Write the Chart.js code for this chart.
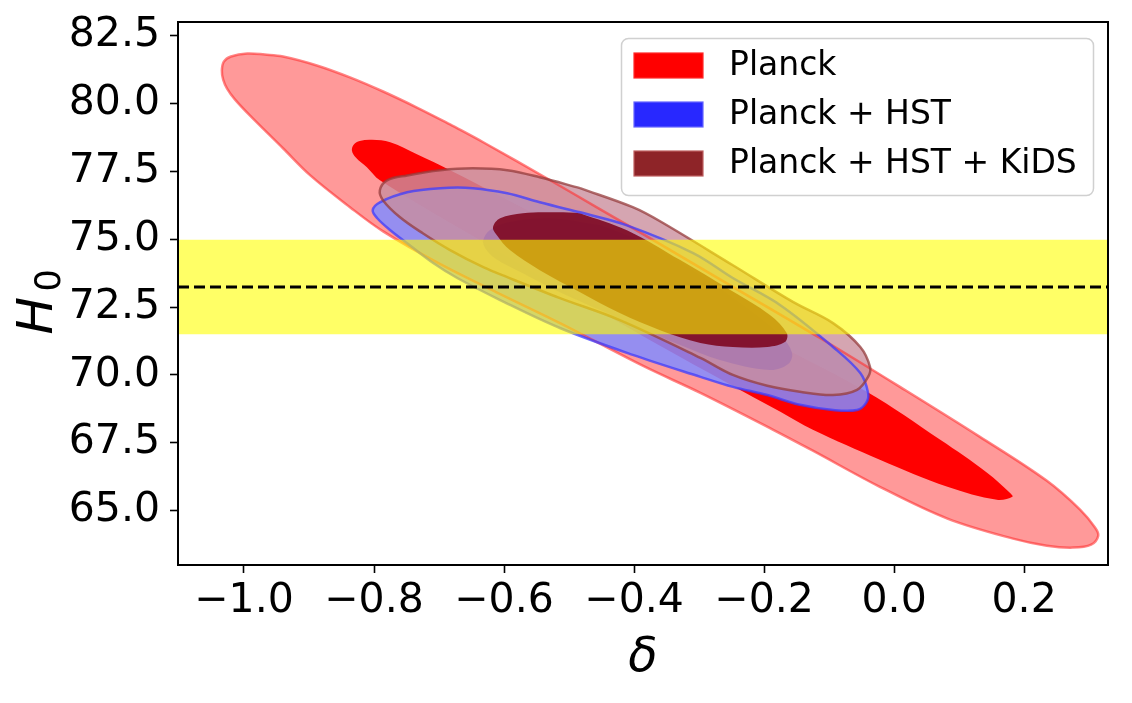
<!DOCTYPE html>
<html>
<head>
<meta charset="utf-8">
<script src="https://cdn.jsdelivr.net/npm/chart.js@4.4.1/dist/chart.umd.min.js"></script>
<style>
html,body{margin:0;padding:0;background:#ffffff;}
canvas{display:block;}
</style>
</head>
<body>
<canvas id="c" width="1132" height="703"></canvas>
<script>
// ---------- data ----------
const xTicks = [-1.0, -0.8, -0.6, -0.4, -0.2, 0.0, 0.2];
const yTicks = [65.0, 67.5, 70.0, 72.5, 75.0, 77.5, 80.0, 82.5];
const xRange = [-1.1015, 0.329];
const yRange = [63.0, 83.0];
const seriesLabels = ['Planck', 'Planck + HST', 'Planck + HST + KiDS'];
const hubbleLocal = 73.24;
const hubbleSigma = 1.74;

// contour outlines [delta, H0]
const planck2Sigma = [[-0.683,79.23],[-0.632,78.57],[-0.529,77.17],[-0.452,76.10],[-0.360,74.82],[-0.237,73.09],[-0.114,71.36],[0.009,69.56],[0.132,67.72],[0.235,66.10],[0.286,65.04],[0.309,64.38],[0.314,64.08],[0.303,63.75],[0.275,63.64],[0.235,63.71],[0.183,63.97],[0.082,64.71],[-0.022,65.88],[-0.125,67.21],[-0.186,67.98],[-0.298,69.34],[-0.386,70.33],[-0.514,71.91],[-0.606,72.98],[-0.698,74.08],[-0.786,75.29],[-0.837,76.18],[-0.898,77.35],[-0.940,78.35],[-0.991,79.56],[-1.014,80.15],[-1.026,80.55],[-1.032,80.88],[-1.034,81.21],[-1.031,81.54],[-1.020,81.73],[-0.995,81.84],[-0.968,81.80],[-0.940,81.73],[-0.888,81.40],[-0.837,80.96],[-0.786,80.44],[-0.734,79.85],[-0.683,79.23]];
const planck1Sigma = [[-0.529,75.63],[-0.375,73.68],[-0.222,71.65],[-0.042,69.38],[0.071,67.61],[0.143,66.40],[0.178,65.66],[0.182,65.51],[0.158,65.40],[0.082,65.88],[-0.022,66.88],[-0.125,67.98],[-0.175,68.64],[-0.329,70.66],[-0.483,72.76],[-0.637,74.96],[-0.791,77.17],[-0.811,77.65],[-0.828,78.01],[-0.834,78.27],[-0.831,78.49],[-0.822,78.62],[-0.803,78.66],[-0.775,78.57],[-0.734,78.13],[-0.683,77.54],[-0.529,75.63]];
const hst2Sigma = [[-0.483,75.99],[-0.411,75.51],[-0.309,74.49],[-0.248,73.57],[-0.175,72.57],[-0.094,71.03],[-0.052,70.07],[-0.040,69.34],[-0.043,68.97],[-0.057,68.71],[-0.094,68.71],[-0.145,68.90],[-0.195,69.26],[-0.248,69.56],[-0.298,69.93],[-0.402,70.74],[-0.514,71.73],[-0.606,72.76],[-0.672,73.57],[-0.709,74.12],[-0.749,74.85],[-0.775,75.33],[-0.795,75.77],[-0.802,76.07],[-0.791,76.36],[-0.749,76.73],[-0.698,76.88],[-0.648,76.88],[-0.595,76.69],[-0.545,76.36],[-0.483,75.99]];
const hst1Sigma = [[-0.452,75.51],[-0.375,74.78],[-0.298,73.68],[-0.222,72.39],[-0.175,71.47],[-0.157,70.81],[-0.163,70.40],[-0.191,70.18],[-0.268,70.55],[-0.329,71.10],[-0.391,71.73],[-0.452,72.39],[-0.514,73.05],[-0.575,73.79],[-0.614,74.30],[-0.629,74.67],[-0.632,74.96],[-0.622,75.33],[-0.591,75.63],[-0.529,75.77],[-0.452,75.51]];
const kids2Sigma = [[-0.483,76.88],[-0.402,76.18],[-0.360,75.66],[-0.248,74.04],[-0.155,72.68],[-0.094,71.91],[-0.052,71.03],[-0.037,70.29],[-0.040,69.93],[-0.057,69.45],[-0.094,69.26],[-0.145,69.38],[-0.195,69.60],[-0.248,70.00],[-0.298,70.63],[-0.422,72.02],[-0.514,72.83],[-0.595,73.60],[-0.632,73.97],[-0.683,74.60],[-0.725,75.22],[-0.760,75.81],[-0.786,76.43],[-0.791,76.80],[-0.780,77.17],[-0.749,77.35],[-0.698,77.54],[-0.648,77.61],[-0.595,77.54],[-0.545,77.28],[-0.483,76.88]];
const kids1Sigma = [[-0.483,75.96],[-0.411,75.33],[-0.329,74.23],[-0.252,73.13],[-0.191,72.21],[-0.165,71.54],[-0.168,71.21],[-0.195,71.03],[-0.248,71.03],[-0.298,71.18],[-0.360,71.65],[-0.422,72.28],[-0.483,73.05],[-0.545,73.86],[-0.591,74.60],[-0.611,75.15],[-0.617,75.44],[-0.606,75.77],[-0.571,75.96],[-0.518,75.99],[-0.483,75.96]];

// ---------- styling ----------
const FONT = "'DejaVu Sans', 'Liberation Sans', sans-serif";
const toPts = arr => arr.map(p => ({x: p[0], y: p[1]}));
const CLEAR = 'rgba(0,0,0,0)';
const TENSION = 0.35;

function fillSet(arr, color, order) {
  return {data: toPts(arr), fill: 'shape', backgroundColor: color, borderColor: CLEAR,
          borderWidth: 0, pointRadius: 0, tension: TENSION, order: order};
}
function edgeSet(arr, color, width, order) {
  return {data: toPts(arr), fill: false, backgroundColor: CLEAR, borderColor: color,
          borderWidth: width, pointRadius: 0, tension: TENSION, order: order};
}

const datasets = [
  fillSet(planck2Sigma, 'rgba(255,0,0,0.4)', 20),
  fillSet(planck1Sigma, 'rgb(255,0,0)', 19),
  fillSet(hst2Sigma, 'rgba(130,140,255,0.85)', 18),
  fillSet(hst1Sigma, 'rgba(40,30,235,0.8)', 17),
  fillSet(kids2Sigma, 'rgba(202,142,157,0.8)', 16),
  fillSet(kids1Sigma, 'rgba(125,5,30,0.88)', 15),
  edgeSet(planck2Sigma, 'rgba(255,50,50,0.6)', 2.5, 14),
  edgeSet(hst2Sigma, 'rgba(60,60,255,0.75)', 2.5, 13),
  edgeSet(kids2Sigma, 'rgba(150,60,60,0.75)', 2.5, 12),
  {data: [{x: xRange[0], y: hubbleLocal + hubbleSigma}, {x: xRange[1], y: hubbleLocal + hubbleSigma}],
   fill: {value: hubbleLocal - hubbleSigma}, backgroundColor: 'rgba(255,255,0,0.6)', borderColor: CLEAR,
   borderWidth: 0, pointRadius: 0, tension: 0, order: 2},
  {data: [{x: xRange[0], y: hubbleLocal}, {x: xRange[1], y: hubbleLocal}],
   fill: false, borderColor: '#000000', borderWidth: 3, borderDash: [11, 5], pointRadius: 0, tension: 0, order: 1}
];

const legendStyles = [
  {fill: 'rgb(255,0,0)', edge: 'rgb(255,40,40)'},
  {fill: 'rgb(40,40,255)', edge: 'rgb(100,100,255)'},
  {fill: 'rgb(142,36,40)', edge: 'rgb(190,95,95)'}
];

const framePlugin = {
  id: 'frame',
  afterDraw(chart) {
    const {ctx, chartArea: a} = chart;
    ctx.save();
    ctx.strokeStyle = '#000';
    ctx.lineWidth = 2;
    ctx.strokeRect(a.left, a.top, a.right - a.left, a.bottom - a.top);
    // y-axis title: italic H with upright subscript 0
    ctx.translate(a.left - 126, (a.top + a.bottom) / 2 + 41);
    ctx.rotate(-Math.PI / 2);
    ctx.fillStyle = '#000';
    ctx.textBaseline = 'alphabetic';
    ctx.textAlign = 'left';
    ctx.font = 'italic 50px ' + FONT;
    ctx.fillText('H', 0, 0);
    ctx.font = '35px ' + FONT;
    ctx.fillText('0', 43, 8);
    ctx.restore();
  }
};

const legendPlugin = {
  id: 'insideLegend',
  afterDraw(chart) {
    const {ctx, chartArea: a} = chart;
    const bw = 472, bh = 157;
    const bx = a.right - 15 - bw, by = a.top + 16;
    ctx.save();
    ctx.beginPath();
    ctx.roundRect(bx + 0.5, by + 0.5, bw, bh, 7);
    ctx.fillStyle = 'rgba(255,255,255,0.85)';
    ctx.fill();
    ctx.strokeStyle = '#d0d0d0';
    ctx.lineWidth = 1.5;
    ctx.stroke();
    ctx.font = '33px ' + FONT;
    ctx.textBaseline = 'middle';
    ctx.textAlign = 'left';
    seriesLabels.forEach((lab, i) => {
      const py = by + 15 + i * 49;
      ctx.fillStyle = legendStyles[i].fill;
      ctx.fillRect(bx + 13, py, 69, 25);
      ctx.strokeStyle = legendStyles[i].edge;
      ctx.lineWidth = 1.2;
      ctx.strokeRect(bx + 13, py, 69, 25);
      ctx.fillStyle = '#000';
      ctx.fillText(lab, bx + 108, py + 13);
    });
    ctx.restore();
  }
};

const fmtX = v => { const s = Math.abs(v).toFixed(1); return v < -1e-9 ? '\u2212' + s : s; };

new Chart(document.getElementById('c'), {
  type: 'line',
  data: {datasets: datasets},
  options: {
    responsive: false,
    animation: false,
    devicePixelRatio: 1,
    layout: {padding: {left: 0, right: 24, top: 22, bottom: 0}},
    plugins: {legend: {display: false}, tooltip: {enabled: false}},
    scales: {
      x: {
        type: 'linear', min: xRange[0], max: xRange[1],
        afterFit(s) { s.height = 138; s.paddingLeft = 0; s.paddingRight = 0; },
        afterBuildTicks(s) { s.ticks = xTicks.map(v => ({value: v})); },
        ticks: {callback: fmtX, color: '#000', font: {family: FONT, size: 41}, padding: 4, maxRotation: 0, autoSkip: false},
        grid: {drawOnChartArea: false, drawTicks: true, tickLength: 8, tickColor: '#000', tickWidth: 1.6},
        border: {display: false},
        title: {display: true, text: '\u03b4', color: '#000', font: {family: FONT, size: 48, style: 'italic'}, padding: {top: 0, bottom: 16}}
      },
      y: {
        type: 'linear', min: yRange[0], max: yRange[1],
        afterFit(s) { s.width = 178; s.paddingTop = 0; s.paddingBottom = 0; },
        afterBuildTicks(s) { s.ticks = yTicks.map(v => ({value: v})); },
        ticks: {callback: v => v.toFixed(1), color: '#000', font: {family: FONT, size: 41}, padding: 10, autoSkip: false},
        grid: {drawOnChartArea: false, drawTicks: true, tickLength: 8, tickColor: '#000', tickWidth: 1.6},
        border: {display: false},
        title: {display: false}
      }
    }
  },
  plugins: [framePlugin, legendPlugin]
});
</script>
</body>
</html>
